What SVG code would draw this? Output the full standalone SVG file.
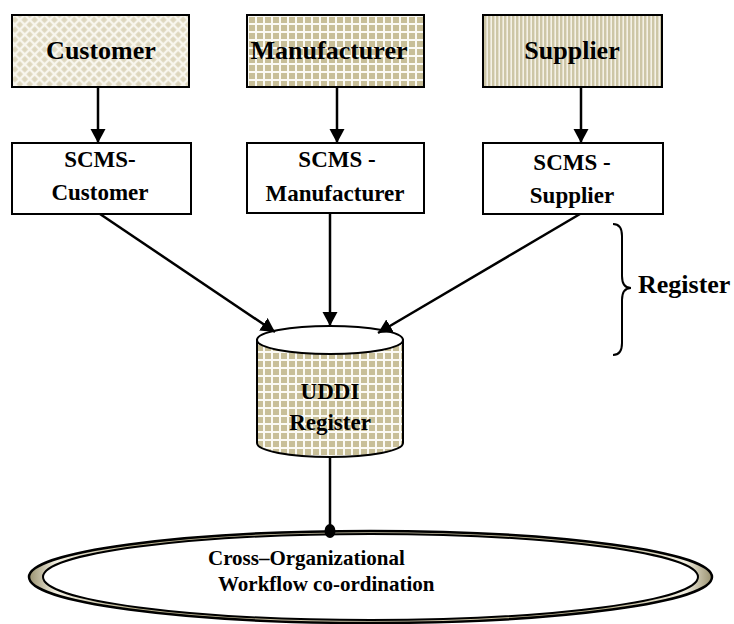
<svg xmlns="http://www.w3.org/2000/svg" width="734" height="624" viewBox="0 0 734 624">
  <style>
    .box { stroke: #000; stroke-width: 2; }
    .plain { fill: #fff; }
    .lbl { font-family: "Liberation Serif", "Times New Roman", serif; font-weight: bold; fill: #000; text-anchor: middle; }
    .big { font-size: 26px; }
    .mid { font-size: 23px; }
    .small { font-size: 21px; text-anchor: start; }
    .link { stroke: #000; stroke-width: 2.5; fill: none; }
  </style>
  <defs>
    <!-- tan square grid with white gaps -->
    <pattern id="grid" width="8" height="8" patternUnits="userSpaceOnUse">
      <rect width="8" height="8" fill="#fbfaf4"/>
      <rect x="1" y="1" width="6" height="6" fill="#c8bf98"/>
    </pattern>
    <!-- vertical tan stripes -->
    <pattern id="stripes" width="4" height="4" patternUnits="userSpaceOnUse">
      <rect width="4" height="4" fill="#f4f1e6"/>
      <rect x="0" y="0" width="2.4" height="4" fill="#cdc6a6"/>
    </pattern>
    <!-- light diagonal lattice -->
    <pattern id="lattice" width="7" height="7" patternUnits="userSpaceOnUse" patternTransform="rotate(45)">
      <rect width="7" height="7" fill="#f8f6ee"/>
      <rect x="1.2" y="1.2" width="4.6" height="4.6" fill="#ddd6bd"/>
    </pattern>
    <linearGradient id="gold" x1="0" y1="0" x2="1" y2="0">
      <stop offset="0" stop-color="#9a9270"/>
      <stop offset="0.04" stop-color="#f3f0e2"/>
      <stop offset="0.15" stop-color="#b8b08c"/>
      <stop offset="0.5" stop-color="#d2cbae"/>
      <stop offset="0.85" stop-color="#b8b08c"/>
      <stop offset="0.96" stop-color="#f3f0e2"/>
      <stop offset="1" stop-color="#9a9270"/>
    </linearGradient>
    <marker id="arrow" markerUnits="userSpaceOnUse" markerWidth="16" markerHeight="16" refX="14" refY="7.5" orient="auto">
      <path d="M0,0 L14,7.5 L0,15 Z" fill="#000"/>
    </marker>
  </defs>

  <!-- organisations -->
  <g id="customer">
    <rect class="box" x="12" y="15" width="177" height="72" fill="url(#lattice)"/>
    <text class="lbl big" x="101" y="59">Customer</text>
  </g>
  <g id="manufacturer">
    <rect class="box" x="247" y="15" width="177" height="72" fill="url(#grid)"/>
    <text class="lbl big" x="329" y="59">Manufacturer</text>
  </g>
  <g id="supplier">
    <rect class="box" x="483" y="15" width="179" height="72" fill="url(#stripes)"/>
    <text class="lbl big" x="572" y="59">Supplier</text>
  </g>

  <!-- SCMS services -->
  <g id="scms-customer">
    <rect class="box plain" x="12" y="143" width="179" height="71"/>
    <text class="lbl mid" x="100" y="167">SCMS-</text>
    <text class="lbl mid" x="100" y="200">Customer</text>
  </g>
  <g id="scms-manufacturer">
    <rect class="box plain" x="247" y="143" width="177" height="70"/>
    <text class="lbl mid" x="337" y="167">SCMS -</text>
    <text class="lbl mid" x="335" y="201">Manufacturer</text>
  </g>
  <g id="scms-supplier">
    <rect class="box plain" x="483" y="143" width="180" height="71"/>
    <text class="lbl mid" x="572" y="170">SCMS -</text>
    <text class="lbl mid" x="572" y="203">Supplier</text>
  </g>

  <!-- UDDI registry cylinder -->
  <g id="uddi">
    <path class="box" d="M257,340 L257,443 A73,14 0 0 0 403,443 L403,340 Z" fill="url(#grid)"/>
    <ellipse class="box plain" cx="330" cy="340" rx="73" ry="14"/>
    <text class="lbl mid" x="330" y="399">UDDI</text>
    <text class="lbl mid" x="330" y="430">Register</text>
  </g>

  <!-- register brace -->
  <g id="register-brace">
    <path d="M613,224 Q622,224 622,236 L622,276 Q622,288 631,288 Q622,288 622,300 L622,343 Q622,355 613,355" fill="none" stroke="#000" stroke-width="2"/>
    <text class="lbl" style="font-size:26px;text-anchor:start" x="638" y="293">Register</text>
  </g>

  <!-- workflow co-ordination ring -->
  <g id="workflow">
    <ellipse cx="370.5" cy="577" rx="341.5" ry="46" fill="url(#gold)" stroke="#000" stroke-width="2.5"/>
    <ellipse cx="370.5" cy="577" rx="327.5" ry="43" fill="#fff" stroke="#000" stroke-width="2"/>
    <text class="lbl small" x="208" y="565">Cross–Organizational</text>
    <text class="lbl small" x="218" y="591">Workflow co-ordination</text>
  </g>

  <!-- connectors -->
  <g id="connectors">
    <line class="link" x1="98" y1="87" x2="98" y2="143" marker-end="url(#arrow)"/>
    <line class="link" x1="337" y1="87" x2="337" y2="143" marker-end="url(#arrow)"/>
    <line class="link" x1="581" y1="87" x2="581" y2="143" marker-end="url(#arrow)"/>
    <line class="link" x1="100" y1="214" x2="275" y2="332" marker-end="url(#arrow)"/>
    <line class="link" x1="330" y1="213" x2="330" y2="326" marker-end="url(#arrow)"/>
    <line class="link" x1="580" y1="214" x2="378" y2="333" marker-end="url(#arrow)"/>
    <line class="link" x1="330" y1="457" x2="330" y2="531"/>
    <ellipse cx="330" cy="531" rx="5.5" ry="7" fill="#000"/>
  </g>
</svg>
